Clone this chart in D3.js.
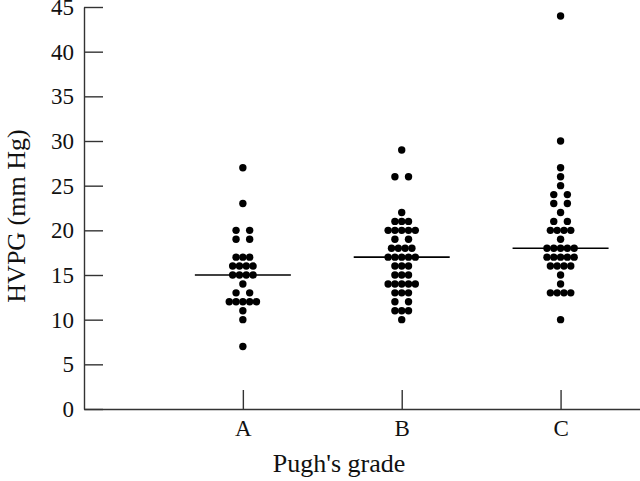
<!DOCTYPE html>
<html>
<head>
<meta charset="utf-8">
<script src="https://cdn.jsdelivr.net/npm/d3@7"></script>
<style>
  body { margin: 0; background: #fff; }
  svg { display: block; }
</style>
</head>
<body>
<div id="chart"></div>
<script>
// Daten: HVPG-Werte je Pugh-Grad
const grades = ["A", "B", "C"];

const gradeA = [27, 23, 20, 20, 19, 19, 17, 17, 17, 16, 16, 16, 16, 15, 15, 15, 15,
    14, 13, 13, 12, 12, 12, 12, 12, 11, 10, 7];
const gradeB = [29, 26, 26, 22, 21, 21, 21, 20, 20, 20, 20, 20, 19, 19, 18, 18, 18, 18,
    17, 17, 17, 17, 17, 16, 16, 16, 15, 15, 15, 14, 14, 14, 14, 14, 13, 13, 13,
    12, 12, 11, 11, 11, 10];
const gradeC = [44, 30, 27, 26, 25, 24, 24, 23, 23, 22, 21, 21, 20, 20, 20, 20, 19,
    18, 18, 18, 18, 18, 17, 17, 17, 17, 17, 16, 16, 16, 16, 15, 14, 13, 13, 13, 13, 10];

const yTicks = [0, 5, 10, 15, 20, 25, 30, 35, 40, 45];

const groups = [gradeA, gradeB, gradeC];

// SVG
const width = 640;
const height = 481;
const svg = d3.select("#chart").append("svg")
    .attr("width", width)
    .attr("height", height);

const x = d3.scaleLinear().domain([0, 3.5]).range([84, 640]);
const y = d3.scaleLinear().domain([0, 45]).range([409, 7]);

const font = "'Liberation Serif', 'Times New Roman', serif";
const axisColor = "#333";

// Y-Achse (Ticks nach innen)
const yAxis = svg.append("g")
    .attr("transform", `translate(${x(0)},0)`)
    .call(d3.axisLeft(y).tickValues(yTicks).tickSize(-19).tickSizeOuter(0).tickPadding(10));

// X-Achse
const xAxis = svg.append("g")
    .attr("transform", `translate(0,${y(0)})`)
    .call(d3.axisBottom(x).tickValues([1, 2, 3]).tickFormat(d => grades[d - 1])
        .tickSize(-19).tickSizeOuter(0).tickPadding(11));

[yAxis, xAxis].forEach(ax => {
    ax.select(".domain").attr("stroke", axisColor).attr("stroke-width", 1.4);
    ax.selectAll(".tick line").attr("stroke", axisColor).attr("stroke-width", 1.4);
    ax.selectAll(".tick text")
        .style("font-family", font)
        .style("font-size", "23px")
        .attr("fill", "#111");
});

// Achsentitel
svg.append("text")
    .attr("transform", "translate(25,216) rotate(-90)")
    .attr("text-anchor", "middle")
    .style("font-family", font)
    .style("font-size", "26px")
    .attr("fill", "#111")
    .text("HVPG (mm Hg)");

svg.append("text")
    .attr("x", 339)
    .attr("y", 472)
    .attr("text-anchor", "middle")
    .style("font-family", font)
    .style("font-size", "26px")
    .attr("fill", "#111")
    .text("Pugh's grade");

// Punkte: gleiche Werte nebeneinander legen
const step = 6.8;
const r = 3.7;

groups.forEach((values, gi) => {
    const cx = x(gi + 1);
    const counts = d3.rollups(values, v => v.length, d => d);

    counts.forEach(([value, n]) => {
        for (let i = 0; i < n; i++) {
            const off = n === 2 ? (i === 0 ? -step : step) : (i - (n - 1) / 2) * step;
            svg.append("circle")
                .attr("cx", cx + off)
                .attr("cy", y(value))
                .attr("r", r)
                .attr("fill", "#000");
        }
    });

    // Medianlinie
    const med = d3.median(values);
    svg.append("line")
        .attr("x1", cx - 48)
        .attr("x2", cx + 48)
        .attr("y1", y(med))
        .attr("y2", y(med))
        .attr("stroke", "#000")
        .attr("stroke-width", 1.6);
});
</script>
</body>
</html>
